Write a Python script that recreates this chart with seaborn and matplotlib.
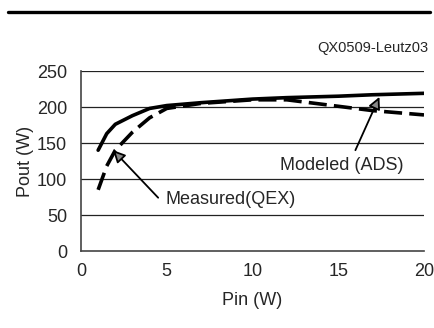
import matplotlib
matplotlib.use("Agg")
import matplotlib.pyplot as plt
from matplotlib.lines import Line2D
import seaborn as sns
import pandas as pd

pin_model = [1, 1.5, 2, 3, 4, 5, 7, 10, 12, 15, 17, 20]
pout_model = [140, 163, 176, 188, 198, 202, 206, 211, 213, 215, 217, 219]
pin_meas = [1, 1.5, 2, 3, 4, 5, 7, 10, 12, 13, 15, 17, 20]
pout_meas = [85, 118, 140, 165, 185, 198, 205, 210, 210, 207, 201, 195, 189]

sns.set_style("white")
plt.rcParams['font.family'] = ['Liberation Sans', 'DejaVu Sans']

fig = plt.figure(figsize=(4.35, 3.28), dpi=100)
ax = fig.add_axes([81/435, 1-251/328, (424-81)/435, (251-71)/328])

df_m = pd.DataFrame({"Pin": pin_model, "Pout": pout_model})
df_q = pd.DataFrame({"Pin": pin_meas, "Pout": pout_meas})
sns.lineplot(data=df_m, x="Pin", y="Pout", ax=ax, color="black", lw=2.6)
sns.lineplot(data=df_q, x="Pin", y="Pout", ax=ax, color="black", lw=2.6)
ax.lines[-1].set_dashes((5, 2))

ax.set_xlim(0, 20)
ax.set_ylim(0, 250)
ax.set_xticks([0, 5, 10, 15, 20])
ax.set_xticks(range(0, 21), minor=True)
ax.set_yticks([0, 50, 100, 150, 200, 250])
for yv in [50, 100, 150, 200, 250]:
    ax.axhline(yv, color="#222222", lw=0.9, zorder=0)
ax.tick_params(axis="x", which="major", direction="in", length=6, width=1, labelsize=13, pad=9, color="#333333")
ax.tick_params(axis="x", which="minor", direction="in", length=4.5, width=1, color="#333333")
ax.tick_params(axis="y", length=0, labelsize=13, pad=10)
for s in ["top", "right"]:
    ax.spines[s].set_visible(False)
for s in ["left", "bottom"]:
    ax.spines[s].set_color("#444444")
    ax.spines[s].set_linewidth(1.2)
ax.set_xlabel("Pin (W)", fontsize=13, labelpad=8)
ax.set_ylabel("Pout (W)", fontsize=13, labelpad=2)

arrow = dict(arrowstyle="-|>", color="black", lw=1.3, mutation_scale=18, fc="#888888", ec="black",
             shrinkA=0, shrinkB=0)
ax.text(15.2, 119, "Modeled (ADS)", fontsize=13, ha="center", va="center")
ax.annotate("", xy=(17.4, 214), xytext=(16.0, 140), arrowprops=dict(arrow))
ax.text(4.9, 71, "Measured(QEX)", fontsize=13, ha="left", va="center")
ax.annotate("", xy=(1.87, 140), xytext=(4.5, 74), arrowprops=dict(arrow))

fig.text(428/435, 1-48/328, "QX0509-Leutz03", fontsize=10.5, ha="right", va="center")
fig.add_artist(Line2D([8/435, 430/435], [1-12/328, 1-12/328], color="black", lw=2.4,
                      transform=fig.transFigure))

fig.savefig("out.png", dpi=100)
